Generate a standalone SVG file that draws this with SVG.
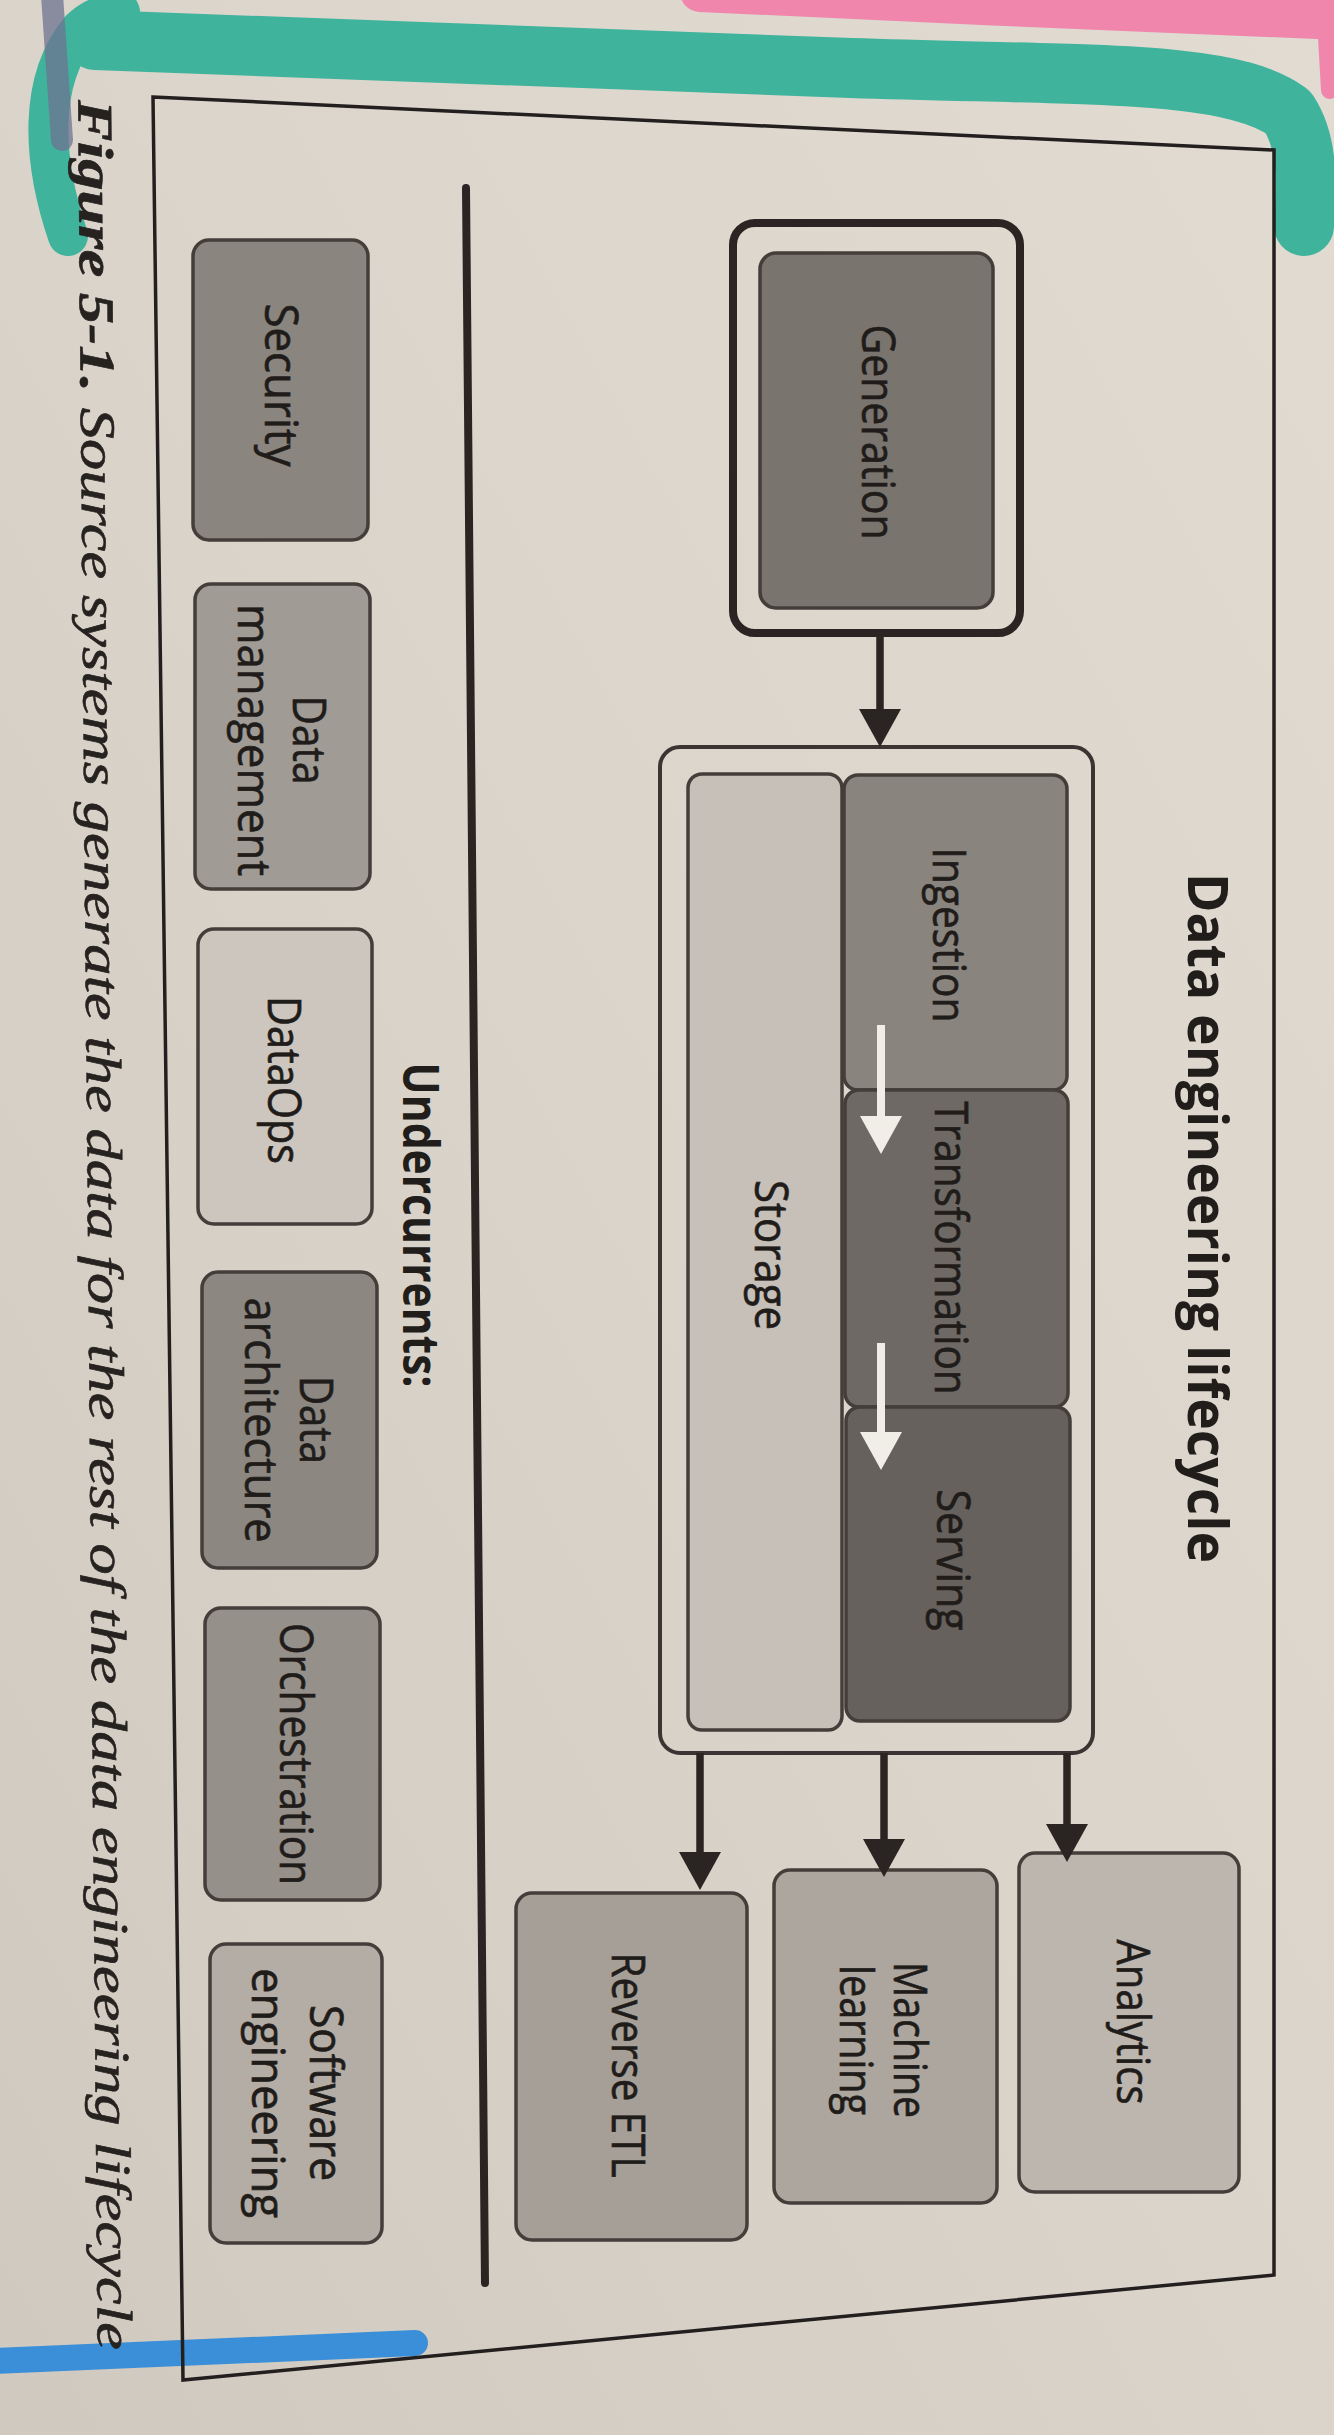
<svg xmlns="http://www.w3.org/2000/svg" width="1334" height="2435" viewBox="0 0 1334 2435">
<defs>
<linearGradient id="paper" x1="0" y1="1" x2="1" y2="0">
<stop offset="0" stop-color="#d0c9bf"/>
<stop offset="0.5" stop-color="#dad4cb"/>
<stop offset="1" stop-color="#e1dbd2"/>
</linearGradient>
<marker id="ah" viewBox="0 0 38 42" refX="28" refY="21" markerWidth="38" markerHeight="42" markerUnits="userSpaceOnUse" orient="auto">
<path d="M0,0 L38,21 L0,42 z" fill="#2a2522"/>
</marker>
<marker id="wah" viewBox="0 0 38 42" refX="28" refY="21" markerWidth="38" markerHeight="42" markerUnits="userSpaceOnUse" orient="auto">
<path d="M0,0 L38,21 L0,42 z" fill="#f1eee8"/>
</marker>
<style>
.box{stroke:#433e3a;stroke-width:3.5}
.lbl{font-family:"Open Sans","Liberation Sans",sans-serif;font-size:46px;fill:#1f1c1a;stroke:#1f1c1a;stroke-width:0.7;text-anchor:middle}
.hdr{font-family:"Open Sans","Liberation Sans",sans-serif;font-weight:bold;fill:#211d1b;text-anchor:middle}
.arr{stroke:#2a2522;stroke-width:7.5;fill:none;marker-end:url(#ah)}
.warr{stroke:#f1eee8;stroke-width:8;fill:none;marker-end:url(#wah)}
.cap{font-family:"Liberation Serif",serif;font-style:italic;font-size:50px;fill:#262220;stroke:#262220;stroke-width:0.6;text-anchor:middle}
</style>
</defs>

<rect width="1334" height="2435" fill="url(#paper)"/>

<g id="markers-ink" fill="none" stroke-linecap="round" stroke-linejoin="round">
<path d="M700,-8 C900,2 1150,12 1340,20" stroke="#f086ac" stroke-width="40"/>
<path d="M1326,20 L1330,90" stroke="#f086ac" stroke-width="18"/>
<path d="M95,40 L851,68 C1100,76 1230,70 1288,112 C1310,145 1306,190 1304,226" stroke="#3fb39b" stroke-width="60"/>
<path d="M68,236 C42,160 38,80 80,30 C90,20 100,15 120,12" stroke="#3fb39b" stroke-width="40"/>
<path d="M52,-5 L62,140" stroke="#6e7390" stroke-width="22" opacity="0.75"/>
<path d="M-5,2361 L415,2343" stroke="#3b8fd9" stroke-width="26"/>
</g>

<g id="frame">
<polygon points="153,97 1274,150 1274,2275 183,2380" fill="none" stroke="#231f1e" stroke-width="3.5"/>
</g>

<g id="caption">
<text class="cap" transform="translate(88,1225) rotate(89.5)" textLength="2250" lengthAdjust="spacingAndGlyphs"><tspan font-weight="bold">Figure 5-1.</tspan> Source systems generate the data for the rest of the data engineering lifecycle</text>
</g>

<g id="title">
<text class="hdr" font-size="56" transform="translate(1188,1218) rotate(90)" textLength="690" lengthAdjust="spacingAndGlyphs">Data engineering lifecycle</text>
</g>

<g id="generation">
<rect x="733" y="223" width="287" height="410" rx="22" fill="none" stroke="#2a2522" stroke-width="8"/>
<rect class="box" x="760" y="253" width="233" height="355" rx="16" fill="#7a746e"/>
<text class="lbl" font-size="50" transform="translate(862,432) rotate(90)" textLength="215" lengthAdjust="spacingAndGlyphs">Generation</text>
</g>

<g id="lifecycle">
<rect x="660" y="747" width="433" height="1006" rx="20" fill="none" stroke="#3a3532" stroke-width="4"/>
</g>

<g id="storage">
<rect class="box" x="688" y="774" width="154" height="956" rx="14" fill="#c6c0b8"/>
<text class="lbl" transform="translate(755,1255) rotate(90)" textLength="150" lengthAdjust="spacingAndGlyphs">Storage</text>
</g>

<g id="ingestion">
<rect class="box" x="844" y="775" width="223" height="315" rx="14" fill="#8a847e"/>
<text class="lbl" transform="translate(933,935) rotate(90)" textLength="175" lengthAdjust="spacingAndGlyphs">Ingestion</text>
</g>

<g id="transformation">
<rect class="box" x="845" y="1090" width="223" height="317" rx="14" fill="#6e6964"/>
<text class="lbl" transform="translate(935,1248) rotate(90)" textLength="293" lengthAdjust="spacingAndGlyphs">Transformation</text>
</g>

<g id="serving">
<rect class="box" x="846" y="1407" width="224" height="314" rx="14" fill="#66615c"/>
<text class="lbl" transform="translate(937,1560) rotate(90)" textLength="141" lengthAdjust="spacingAndGlyphs">Serving</text>
</g>

<g id="analytics">
<rect class="box" x="1019" y="1853" width="220" height="339" rx="16" fill="#bcb6ae"/>
<text class="lbl" transform="translate(1117,2022) rotate(90)" textLength="165" lengthAdjust="spacingAndGlyphs">Analytics</text>
</g>

<g id="machine-learning">
<rect class="box" x="774" y="1870" width="223" height="333" rx="16" fill="#aca69e"/>
<text class="lbl" transform="translate(840,2040) rotate(90)"><tspan x="0" y="-54" textLength="156" lengthAdjust="spacingAndGlyphs">Machine</tspan><tspan x="0" y="0" textLength="150" lengthAdjust="spacingAndGlyphs">learning</tspan></text>
</g>

<g id="reverse-etl">
<rect class="box" x="516" y="1893" width="231" height="347" rx="16" fill="#a59f97"/>
<text class="lbl" transform="translate(612,2065) rotate(90)" textLength="225" lengthAdjust="spacingAndGlyphs">Reverse ETL</text>
</g>

<g id="separator">
<line x1="466" y1="188" x2="485" y2="2283" stroke="#2a2522" stroke-width="8" stroke-linecap="round"/>
</g>

<g id="undercurrents-label">
<text class="hdr" font-size="50" transform="translate(403,1225) rotate(90)" textLength="325" lengthAdjust="spacingAndGlyphs">Undercurrents:</text>
</g>

<g id="security">
<rect class="box" x="193" y="240" width="175" height="300" rx="16" fill="#8a857f"/>
<text class="lbl" transform="translate(265,385) rotate(90)" textLength="163" lengthAdjust="spacingAndGlyphs">Security</text>
</g>

<g id="data-management">
<rect class="box" x="195" y="584" width="175" height="305" rx="16" fill="#a09b95"/>
<text class="lbl" transform="translate(238,740) rotate(90)"><tspan x="0" y="-55" textLength="89" lengthAdjust="spacingAndGlyphs">Data</tspan><tspan x="0" y="0" textLength="272" lengthAdjust="spacingAndGlyphs">management</tspan></text>
</g>

<g id="dataops">
<rect class="box" x="198" y="929" width="174" height="295" rx="16" fill="#ccc6be"/>
<text class="lbl" transform="translate(268,1080) rotate(90)" textLength="168" lengthAdjust="spacingAndGlyphs">DataOps</text>
</g>

<g id="data-architecture">
<rect class="box" x="202" y="1272" width="175" height="296" rx="16" fill="#8c8781"/>
<text class="lbl" transform="translate(245,1420) rotate(90)"><tspan x="0" y="-55" textLength="88" lengthAdjust="spacingAndGlyphs">Data</tspan><tspan x="0" y="0" textLength="245" lengthAdjust="spacingAndGlyphs">architecture</tspan></text>
</g>

<g id="orchestration">
<rect class="box" x="205" y="1608" width="175" height="292" rx="16" fill="#96908a"/>
<text class="lbl" transform="translate(280,1754) rotate(90)" textLength="262" lengthAdjust="spacingAndGlyphs">Orchestration</text>
</g>

<g id="software-engineering">
<rect class="box" x="210" y="1944" width="172" height="299" rx="16" fill="#b3ada5"/>
<text class="lbl" transform="translate(252,2093) rotate(90)"><tspan x="0" y="-58" textLength="176" lengthAdjust="spacingAndGlyphs">Software</tspan><tspan x="0" y="0" textLength="250" lengthAdjust="spacingAndGlyphs">engineering</tspan></text>
</g>

<g id="connectors">
<line class="arr" x1="880" y1="633" x2="880" y2="737"/>
<line class="warr" x1="881" y1="1025" x2="881" y2="1144"/>
<line class="warr" x1="881" y1="1343" x2="881" y2="1460"/>
<line class="arr" x1="1067" y1="1753" x2="1067" y2="1852"/>
<line class="arr" x1="884" y1="1753" x2="884" y2="1867"/>
<line class="arr" x1="700" y1="1753" x2="700" y2="1880"/>
</g>
</svg>
